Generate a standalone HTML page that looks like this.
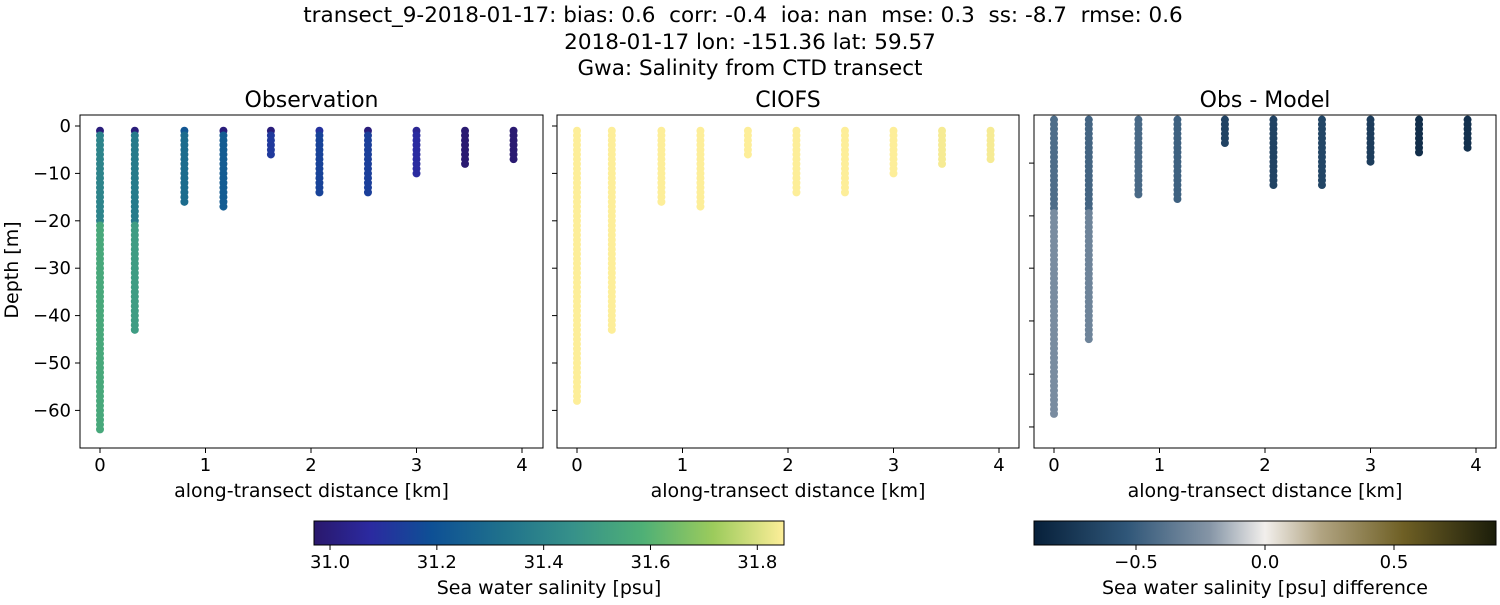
<!DOCTYPE html>
<html><head><meta charset="utf-8">
<style>
body{margin:0;background:#fff;}
svg text{font-family:"DejaVu Sans","Liberation Sans",sans-serif;fill:#000;}
</style></head>
<body>
<svg id="fig" width="1500" height="600" xmlns="http://www.w3.org/2000/svg">
<defs>
<linearGradient id="haline" x1="0" x2="1" y1="0" y2="0">
<stop offset="0" stop-color="#2a186c"/><stop offset="0.12" stop-color="#2b2aa0"/><stop offset="0.25" stop-color="#0e5095"/><stop offset="0.4" stop-color="#1f718c"/><stop offset="0.55" stop-color="#36918a"/><stop offset="0.7" stop-color="#4fb076"/><stop offset="0.85" stop-color="#9ccb5c"/><stop offset="1" stop-color="#fdee99"/>
</linearGradient>
<linearGradient id="diffc" x1="0" x2="1" y1="0" y2="0">
<stop offset="0" stop-color="#07203a"/><stop offset="0.2" stop-color="#2f5678"/><stop offset="0.38" stop-color="#8595a6"/><stop offset="0.5" stop-color="#f2efec"/><stop offset="0.62" stop-color="#b1a482"/><stop offset="0.8" stop-color="#6e5f24"/><stop offset="1" stop-color="#1b1d0a"/>
</linearGradient>
</defs>
<text x="743" y="22" font-size="21.5" text-anchor="middle" xml:space="preserve">transect_9-2018-01-17: bias: 0.6  corr: -0.4  ioa: nan  mse: 0.3  ss: -8.7  rmse: 0.6</text>
<text x="750" y="49" font-size="21.5" text-anchor="middle">2018-01-17 lon: -151.36 lat: 59.57</text>
<text x="750" y="75" font-size="21.5" text-anchor="middle">Gwa: Salinity from CTD transect</text>
<g id="plots"></g>
</svg>
<script>
// station along-transect distances (km)
const stationDist = [0, 0.33, 0.8, 1.17, 1.62, 2.08, 2.54, 3.0, 3.46, 3.92];
// max depth (m) per station
const obsDepth = [64, 43, 16, 17, 6, 14, 14, 10, 8, 7];
const modelDepth = [58, 43, 16, 17, 6, 14, 14, 10, 8, 7];
const diffDepth = [64, 48, 17, 18.5, 6, 15, 15, 10.5, 8.5, 7];
// salinity profile per station: [surface, upper(to 20m), deep]
const obsSurface = [31.0, 31.0, 31.22, 31.0, 31.0, 31.1, 31.0, 31.05, 30.98, 30.98];
const obsUpper = [31.4, 31.36, 31.3, 31.24, 31.12, 31.15, 31.14, 31.08, 30.98, 30.98];
const obsDeep = [31.55, 31.5, 31.38, 31.35, 31.12, 31.2, 31.22, 31.12, 30.98, 30.98];
const modelSal = [31.85, 31.85, 31.85, 31.85, 31.85, 31.85, 31.85, 31.85, 31.84, 31.84];
const diffUpper = [-0.42, -0.46, -0.44, -0.48, -0.66, -0.66, -0.64, -0.7, -0.8, -0.78];
const diffDeep = [-0.26, -0.3, -0.38, -0.38, -0.66, -0.6, -0.55, -0.68, -0.8, -0.78];
const xTicks = [0, 1, 2, 3, 4];
const yTicks = [0, -10, -20, -30, -40, -50, -60];
const diffYTicks = [-10.3, -21.6, -32.8, -44.1, -55.5, -66.8];

const NS="http://www.w3.org/2000/svg";
const root=document.getElementById('plots');
function mk(tag,attrs,parent){const e=document.createElementNS(NS,tag);for(const k in attrs)e.setAttribute(k,attrs[k]);(parent||root).appendChild(e);return e;}
function interp(stops,t){t=Math.max(0,Math.min(1,t));for(let i=1;i<stops.length;i++){if(t<=stops[i][0]){const a=stops[i-1],b=stops[i];const f=(t-a[0])/(b[0]-a[0]);const c=[0,1,2].map(j=>Math.round(a[1][j]+(b[1][j]-a[1][j])*f));return `rgb(${c})`;}}return `rgb(${stops[stops.length-1][1]})`;}
function hx(h){return [1,3,5].map(i=>parseInt(h.substr(i,2),16));}
const halStops=[[0,'#2a186c'],[0.12,'#2b2aa0'],[0.25,'#0e5095'],[0.4,'#1f718c'],[0.55,'#36918a'],[0.7,'#4fb076'],[0.85,'#9ccb5c'],[1,'#fdee99']].map(s=>[s[0],hx(s[1])]);
const difStops=[[0,'#07203a'],[0.2,'#2f5678'],[0.38,'#8595a6'],[0.5,'#f2efec'],[0.62,'#b1a482'],[0.8,'#6e5f24'],[1,'#1b1d0a']].map(s=>[s[0],hx(s[1])]);
const salCol=v=>interp(halStops,(v-30.97)/(31.85-30.97));
const difCol=v=>interp(difStops,(v+0.895)/1.79);

const panels=[
 {name:'observation',title:'Observation',x0:80,x1:543,z0:126,pxm:4.74,labels:true,ticks:yTicks},
 {name:'ciofs',title:'CIOFS',x0:557,x1:1019,z0:126,pxm:4.74,labels:false,ticks:yTicks},
 {name:'obs-minus-model',title:'Obs - Model',x0:1034,x1:1496,z0:115,pxm:4.67,labels:false,ticks:diffYTicks}];
const yT=115,yB=448;
panels.forEach((p,pi)=>{
 const g=mk('g',{});
 
 
 const xs=d=>p.x0+20+d*105.5;
 const ys=z=>p.z0+z*p.pxm;
 const cid='clip'+pi;
 const cp=mk('clipPath',{id:cid},g);mk('rect',{x:p.x0,y:yT,width:p.x1-p.x0,height:yB-yT},cp);
 const pts=mk('g',{'clip-path':`url(#${cid})`},g);
 
 
 stationDist.forEach((d,i)=>{
  const maxD=[obsDepth,modelDepth,diffDepth][pi][i];
  for(let z=1;z<=maxD+0.01;z+=1){
   let c;
   if(pi===0){const v=z<=1?obsSurface[i]:(z<=20?obsUpper[i]:obsDeep[i]);c=salCol(v);}
   else if(pi===1){c=salCol(modelSal[i]);}
   else{const v=z<=20?diffUpper[i]:diffDeep[i];c=difCol(v);}
   const dot=mk('circle',{cx:xs(d),cy:ys(z),r:4,fill:c},pts);
   
   
  }
 });
 mk('rect',{x:p.x0,y:yT,width:p.x1-p.x0,height:yB-yT,fill:'none',stroke:'#000','stroke-width':1},g);
 const t=mk('text',{x:(p.x0+p.x1)/2,y:107,'font-size':22,'text-anchor':'middle'},g);t.textContent=p.title;
 
 xTicks.forEach(v=>{mk('line',{x1:xs(v),x2:xs(v),y1:yB,y2:yB+5,stroke:'#000'},g);
  const tt=mk('text',{x:xs(v),y:yB+23,'font-size':18,'text-anchor':'middle'},g);tt.textContent=v;
  });
 const xl=mk('text',{x:(p.x0+p.x1)/2,y:497,'font-size':19,'text-anchor':'middle'},g);xl.textContent='along-transect distance [km]';
 
 p.ticks.forEach(v=>{const y=ys(-v);if(y<yT||y>yB)return;mk('line',{x1:p.x0-5,x2:p.x0,y1:y,y2:y,stroke:'#000'},g);
  if(p.labels){const tt=mk('text',{x:p.x0-9,y:y+6,'font-size':18,'text-anchor':'end'},g);tt.textContent=v===0?'0':'\u2212'+(-v);
  }});
});
const yl=mk('text',{x:18,y:270,'font-size':19,'text-anchor':'middle',transform:'rotate(-90 18 270)'});yl.textContent='Depth [m]';

function cbar(name,x0,x1,grad,ticks,fmt,scale,label){
 const g=mk('g',{});
 mk('rect',{x:x0,y:521,width:x1-x0,height:24,fill:`url(#${grad})`,stroke:'#000'},g);
 ticks.forEach(v=>{const x=scale(v);mk('line',{x1:x,x2:x,y1:545,y2:550,stroke:'#000'},g);
  const t=mk('text',{x:x,y:568,'font-size':18,'text-anchor':'middle'},g);t.textContent=fmt(v);
  });
 const l=mk('text',{x:(x0+x1)/2,y:594,'font-size':19,'text-anchor':'middle'},g);l.textContent=label;
 
}
const salTicks=[31.0,31.2,31.4,31.6,31.8];
const difTicks=[-0.5,0.0,0.5];
cbar('salinity-colorbar',314,784,'haline',salTicks,v=>v.toFixed(1),v=>314+(v-30.97)/(0.88)*470,'Sea water salinity [psu]');
cbar('difference-colorbar',1034,1496,'diffc',difTicks,v=>(v<0?'\u2212':'')+Math.abs(v).toFixed(1),v=>1265+v*258,'Sea water salinity [psu] difference');
</script>
</body></html>
